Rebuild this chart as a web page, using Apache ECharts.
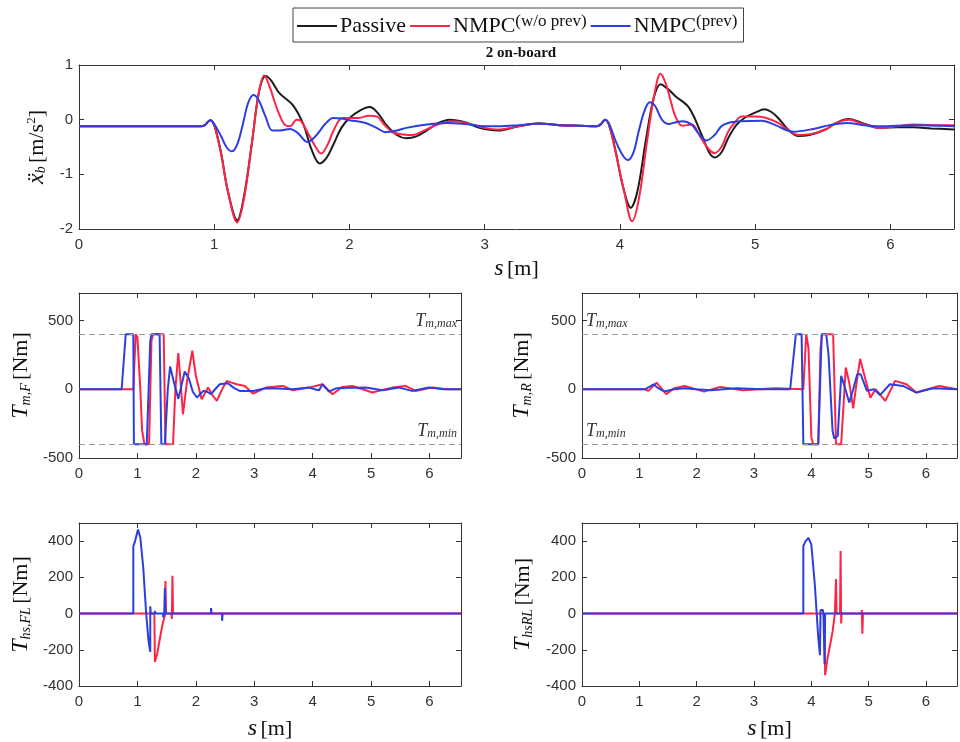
<!DOCTYPE html>
<html>
<head>
<meta charset="utf-8">
<script src="https://cdn.jsdelivr.net/npm/echarts@6/dist/echarts.min.js"></script>
<style>html,body{margin:0;padding:0;background:#fff;}#c{width:960px;height:742px;}</style>
</head>
<body>
<div id="c"></div>
<script>
// ---------- data ----------
const seriesNames = ['Passive', 'NMPC(w/o prev)', 'NMPC(prev)'];
const xTickLabels = [0, 1, 2, 3, 4, 5, 6];

// body acceleration [s, value]
const accPassive = [[0,-0.12],[0.9,-0.12],[0.93,-0.1],[0.97,-0.01],[1.0,-0.1],[1.05,-0.6],[1.1,-1.3],[1.17,-1.84],[1.22,-1.4],[1.28,-0.4],[1.33,0.5],[1.38,0.8],[1.42,0.72],[1.48,0.49],[1.58,0.27],[1.66,-0.09],[1.72,-0.55],[1.78,-0.8],[1.83,-0.7],[1.88,-0.46],[1.94,-0.15],[2.0,0.03],[2.08,0.17],[2.15,0.23],[2.21,0.12],[2.27,-0.09],[2.35,-0.28],[2.42,-0.34],[2.5,-0.3],[2.57,-0.2],[2.65,-0.07],[2.74,0.0],[2.86,-0.05],[2.96,-0.15],[3.1,-0.2],[3.25,-0.12],[3.4,-0.07],[3.55,-0.1],[3.7,-0.11],[3.83,-0.12],[3.86,-0.08],[3.89,0.0],[3.92,-0.1],[3.97,-0.6],[4.02,-1.2],[4.08,-1.61],[4.13,-1.3],[4.19,-0.4],[4.25,0.4],[4.3,0.65],[4.36,0.55],[4.41,0.43],[4.51,0.22],[4.6,-0.25],[4.66,-0.6],[4.7,-0.69],[4.75,-0.6],[4.8,-0.34],[4.86,-0.1],[4.92,0.03],[5.0,0.13],[5.07,0.19],[5.12,0.14],[5.17,0.03],[5.25,-0.2],[5.32,-0.3],[5.4,-0.28],[5.52,-0.18],[5.6,-0.06],[5.69,0.01],[5.78,-0.05],[5.92,-0.15],[6.05,-0.14],[6.17,-0.14],[6.3,-0.16],[6.47,-0.18]];
const accNoPrev = [[0,-0.12],[0.9,-0.12],[0.93,-0.1],[0.97,-0.01],[1.0,-0.1],[1.05,-0.62],[1.1,-1.3],[1.17,-1.88],[1.22,-1.45],[1.28,-0.4],[1.33,0.5],[1.37,0.81],[1.41,0.6],[1.45,0.3],[1.48,0.1],[1.52,-0.09],[1.56,-0.12],[1.61,0.0],[1.64,-0.02],[1.7,-0.28],[1.75,-0.5],[1.79,-0.62],[1.84,-0.45],[1.88,-0.21],[1.95,0.03],[2.07,0.03],[2.14,0.07],[2.2,0.06],[2.26,-0.1],[2.32,-0.23],[2.4,-0.27],[2.47,-0.28],[2.55,-0.2],[2.62,-0.12],[2.7,-0.05],[2.77,-0.03],[2.91,-0.09],[3.0,-0.15],[3.1,-0.18],[3.25,-0.12],[3.4,-0.07],[3.55,-0.1],[3.7,-0.11],[3.83,-0.12],[3.86,-0.08],[3.89,0.0],[3.92,-0.1],[3.97,-0.62],[4.03,-1.3],[4.09,-1.86],[4.14,-1.45],[4.2,-0.4],[4.25,0.4],[4.3,0.84],[4.34,0.65],[4.38,0.3],[4.41,0.06],[4.46,-0.11],[4.53,-0.09],[4.6,-0.34],[4.66,-0.55],[4.7,-0.61],[4.75,-0.5],[4.8,-0.22],[4.85,-0.05],[4.9,0.06],[5.0,0.06],[5.07,0.04],[5.17,-0.06],[5.25,-0.2],[5.32,-0.28],[5.42,-0.26],[5.52,-0.18],[5.6,-0.06],[5.69,0.0],[5.8,-0.08],[5.92,-0.15],[6.05,-0.12],[6.17,-0.09],[6.3,-0.1],[6.47,-0.1]];
const accPrev = [[0,-0.12],[0.9,-0.12],[0.93,-0.1],[0.97,-0.01],[1.0,-0.08],[1.05,-0.3],[1.09,-0.5],[1.13,-0.58],[1.17,-0.45],[1.21,-0.1],[1.25,0.3],[1.29,0.45],[1.33,0.35],[1.38,0.05],[1.43,-0.2],[1.48,-0.2],[1.56,-0.17],[1.62,-0.25],[1.69,-0.41],[1.75,-0.3],[1.82,-0.08],[1.88,0.03],[1.94,0.02],[2.0,-0.01],[2.12,-0.06],[2.2,-0.15],[2.27,-0.23],[2.35,-0.2],[2.42,-0.15],[2.57,-0.09],[2.72,-0.06],[2.85,-0.08],[3.0,-0.12],[3.1,-0.12],[3.25,-0.1],[3.4,-0.07],[3.55,-0.1],[3.7,-0.11],[3.83,-0.12],[3.86,-0.08],[3.89,0.0],[3.92,-0.08],[3.97,-0.4],[4.02,-0.65],[4.06,-0.74],[4.1,-0.6],[4.14,-0.2],[4.18,0.15],[4.22,0.32],[4.26,0.25],[4.31,0.0],[4.36,-0.08],[4.41,-0.05],[4.46,-0.03],[4.53,-0.09],[4.58,-0.25],[4.64,-0.38],[4.7,-0.28],[4.75,-0.12],[4.8,-0.06],[4.9,-0.03],[5.05,-0.02],[5.15,-0.1],[5.28,-0.22],[5.43,-0.17],[5.55,-0.1],[5.68,-0.06],[5.8,-0.1],[5.92,-0.12],[6.17,-0.1],[6.47,-0.12]];

// front motor torque
const tmfNoPrev = [[0,0],[0.93,0],[0.97,400],[1.0,380],[1.05,0],[1.08,-300],[1.12,-400],[1.2,-400],[1.24,350],[1.27,400],[1.45,400],[1.48,-400],[1.61,-400],[1.65,0],[1.7,263],[1.74,50],[1.78,-182],[1.85,60],[1.94,280],[2.0,100],[2.1,-73],[2.21,12],[2.28,-40],[2.36,-85],[2.45,0],[2.53,61],[2.6,50],[2.7,36],[2.84,24],[2.98,-32],[3.2,12],[3.49,24],[3.66,-7],[3.94,12],[4.17,36],[4.34,-36],[4.51,17],[4.68,24],[4.91,-7],[5.02,-24],[5.36,12],[5.59,24],[5.76,-12],[6.05,12],[6.3,0],[6.54,0]];
const tmfPrev = [[0,0],[0.73,0],[0.8,400],[0.93,400],[0.94,-400],[1.16,-400],[1.22,350],[1.24,400],[1.38,400],[1.41,-400],[1.47,-400],[1.52,0],[1.56,165],[1.62,60],[1.7,-70],[1.75,20],[1.81,129],[1.88,80],[1.95,-20],[2.02,-60],[2.13,-12],[2.2,-20],[2.26,-36],[2.33,0],[2.41,36],[2.55,44],[2.65,10],[2.75,-12],[2.98,-12],[3.2,7],[3.4,5],[3.66,0],[3.94,12],[4.05,-2],[4.11,-7],[4.17,36],[4.22,10],[4.28,-17],[4.4,7],[4.6,10],[4.91,12],[5.2,-7],[5.48,12],[5.7,-12],[5.99,12],[6.25,0],[6.54,0]];

// rear motor torque
const tmrNoPrev = [[0,0],[1.1,0],[1.16,-12],[1.3,48],[1.47,-36],[1.6,5],[1.79,24],[2.13,-17],[2.41,17],[2.81,-7],[3.38,7],[3.86,0],[3.91,400],[3.95,300],[4.0,-350],[4.03,-400],[4.12,-400],[4.16,300],[4.19,400],[4.38,400],[4.43,-400],[4.52,-400],[4.6,158],[4.66,50],[4.73,-139],[4.79,50],[4.85,221],[4.95,60],[5.03,-61],[5.12,0],[5.29,-85],[5.46,61],[5.66,36],[5.83,-24],[6.23,24],[6.54,0]];
const tmrPrev = [[0,0],[1.1,0],[1.25,36],[1.32,10],[1.44,-17],[1.6,0],[1.79,7],[2.0,0],[2.24,-7],[2.7,7],[3.16,0],[3.63,0],[3.73,400],[3.83,400],[3.86,-400],[4.12,-400],[4.18,400],[4.26,400],[4.3,250],[4.37,-304],[4.4,-358],[4.46,-340],[4.52,97],[4.58,20],[4.66,-97],[4.73,0],[4.8,109],[4.86,109],[4.97,-12],[5.09,0],[5.2,-41],[5.37,36],[5.6,24],[5.83,-24],[6.12,7],[6.54,0]];

// front-left hard-stop torque
const thsflNoPrev = [[0,0],[1.29,0],[1.3,-267],[1.34,-220],[1.38,-146],[1.43,-60],[1.47,-10],[1.48,180],[1.49,0],[1.58,0],[1.59,-30],[1.6,208],[1.61,0],[6.54,0]];
const thsflPrev = [[0,0],[0.93,0],[0.93,370],[0.96,400],[1.01,464],[1.05,420],[1.1,254],[1.15,0],[1.19,-150],[1.22,-212],[1.22,40],[1.23,0],[1.3,0],[1.3,15],[1.31,0],[1.44,0],[1.44,-20],[1.46,0],[1.47,141],[1.48,0],[2.26,0],[2.26,30],[2.27,0],[2.45,0],[2.45,-40],[2.46,0],[4.4,0],[4.4,8],[4.41,0],[6.54,0]];

// rear-left hard-stop torque
const thsrlNoPrev = [[0,0],[4.23,0],[4.24,-340],[4.28,-250],[4.32,-185],[4.37,-100],[4.41,0],[4.43,190],[4.44,0],[4.5,0],[4.51,345],[4.52,-55],[4.53,0],[4.88,0],[4.88,20],[4.89,-111],[4.9,0],[6.54,0]];
const thsrlPrev = [[0,0],[3.86,0],[3.86,373],[3.9,400],[3.95,418],[4.0,380],[4.06,162],[4.12,-130],[4.15,-230],[4.16,20],[4.2,20],[4.21,0],[4.23,0],[4.23,-280],[4.24,0],[6.54,0]];

const torqueLimits = [400, -400];

// ---------- styling ----------
const C_BLACK = '#1c1c1c', C_RED = '#ff2445', C_BLUE = '#2b3fe0';
const AX = '#333';
const SERIF = '"Liberation Serif", "DejaVu Serif", serif';
const SANS = '"Liberation Sans", Arial, sans-serif';

const nameRich = {
  it: {fontFamily: SERIF, fontStyle: 'italic', fontSize: 24, color: '#111'},
  sub: {fontFamily: SERIF, fontStyle: 'italic', fontSize: 14, color: '#111', verticalAlign: 'bottom', lineHeight: 14},
  n: {fontFamily: SERIF, fontSize: 22, color: '#111'},
  sup: {fontFamily: SERIF, fontSize: 13, color: '#111', verticalAlign: 'top', lineHeight: 13}
};

const grids = [
  {left: 79, top: 65, width: 875, height: 164},
  {left: 79, top: 293, width: 382, height: 165},
  {left: 582, top: 293, width: 382, height: 165},
  {left: 79, top: 523, width: 382, height: 163},
  {left: 582, top: 523, width: 382, height: 163}
];
const xMax = [6.47, 6.54, 6.54, 6.54, 6.54];
const yRange = [[-2, 1, 1], [-500, 700, 500], [-500, 700, 500], [-400, 500, 200], [-400, 500, 200]];
const yNames = [
  '{it|ẍ}{sub|b} {n|[m/s}{sup|2}{n|]}',
  '{it|T}{sub|m,F} {n|[Nm]}',
  '{it|T}{sub|m,R} {n|[Nm]}',
  '{it|T}{sub|hs,FL} {n|[Nm]}',
  '{it|T}{sub|hsRL} {n|[Nm]}'
];
const yNameGap = [24, 46, 48, 46, 47];
const xNameShown = [true, false, false, true, true];
const xNameGap = [28, 0, 0, 31, 31];

const xAxes = [], yAxes = [];
grids.forEach((g, i) => {
  const line = {show: true, onZero: false, lineStyle: {color: AX, width: 1}};
  const tick = {show: true, inside: true, length: 5, lineStyle: {color: AX}};
  xAxes.push({
    type: 'value', gridIndex: i, min: 0, max: xMax[i], interval: 1,
    axisLine: line, axisTick: tick, splitLine: {show: false},
    axisLabel: {color: '#333', fontFamily: SANS, fontSize: 15, margin: 8,
      formatter: v => (xTickLabels.indexOf(v) >= 0 ? String(v) : '')},
    name: xNameShown[i] ? '{it|s} {n|[m]}' : '', nameLocation: 'middle', nameGap: xNameGap[i],
    nameTextStyle: {rich: nameRich}
  });
  xAxes.push({
    type: 'value', gridIndex: i, min: 0, max: xMax[i], interval: 1, position: 'top',
    axisLine: line, axisTick: tick, axisLabel: {show: false}, splitLine: {show: false}
  });
  yAxes.push({
    type: 'value', gridIndex: i, min: yRange[i][0], max: yRange[i][1], interval: yRange[i][2],
    axisLine: line, axisTick: tick, splitLine: {show: false},
    axisLabel: {color: '#333', fontFamily: SANS, fontSize: 15, margin: 6, showMaxLabel: i === 0},
    name: yNames[i], nameLocation: 'middle', nameGap: yNameGap[i], nameRotate: 90,
    nameTextStyle: {rich: nameRich}
  });
  yAxes.push({
    type: 'value', gridIndex: i, min: yRange[i][0], max: yRange[i][1], interval: yRange[i][2], position: 'right',
    axisLine: line, axisTick: tick, axisLabel: {show: false}, splitLine: {show: false}
  });
});

function lineSeries(name, color, data, gi, smooth) {
  return {
    type: 'line', name: name, data: data, xAxisIndex: 2 * gi, yAxisIndex: 2 * gi,
    showSymbol: false, symbol: 'none', smooth: smooth, animation: false, sampling: null,
    lineStyle: {color: color, width: 2}, itemStyle: {color: color}, z: 3
  };
}
function limitLines(atEnd) {
  const labRich = {
    it: {fontFamily: SERIF, fontStyle: 'italic', fontSize: 18, color: '#333'},
    sub: {fontFamily: SERIF, fontStyle: 'italic', fontSize: 12, color: '#333', verticalAlign: 'bottom', lineHeight: 12}
  };
  return {
    silent: true, symbol: ['none', 'none'], animation: false,
    lineStyle: {color: '#9a9a9a', type: [6, 4], width: 1},
    data: [
      {yAxis: torqueLimits[0], label: {formatter: '{it|T}{sub|m,max}'}},
      {yAxis: torqueLimits[1], label: {formatter: '{it|T}{sub|m,min}'}}
    ],
    label: {show: true, position: atEnd ? 'insideEndTop' : 'insideStartTop', distance: [4, 4], rich: labRich}
  };
}

const series = [
  lineSeries(seriesNames[0], C_BLACK, accPassive, 0, 0.35),
  lineSeries(seriesNames[1], C_RED, accNoPrev, 0, 0.35),
  lineSeries(seriesNames[2], C_BLUE, accPrev, 0, 0.35),
  Object.assign(lineSeries(seriesNames[1], C_RED, tmfNoPrev, 1, false), {markLine: limitLines(true)}),
  lineSeries(seriesNames[2], C_BLUE, tmfPrev, 1, false),
  Object.assign(lineSeries(seriesNames[1], C_RED, tmrNoPrev, 2, false), {markLine: limitLines(false)}),
  lineSeries(seriesNames[2], C_BLUE, tmrPrev, 2, false),
  lineSeries(seriesNames[1], C_RED, thsflNoPrev, 3, false),
  lineSeries(seriesNames[2], C_BLUE, thsflPrev, 3, false),
  lineSeries(seriesNames[1], C_RED, thsrlNoPrev, 4, false),
  lineSeries(seriesNames[2], C_BLUE, thsrlPrev, 4, false)
];

const chart = echarts.init(document.getElementById('c'), null, {renderer: 'canvas'});
chart.setOption({
  backgroundColor: '#fff',
  animation: false,
  grid: grids.map(g => Object.assign({show: false, containLabel: false}, g)),
  xAxis: xAxes,
  yAxis: yAxes,
  legend: {
    data: seriesNames, left: 293, top: 8, orient: 'horizontal',
    padding: [5, 6, 5, 4], itemGap: 4, itemWidth: 40, itemHeight: 14,
    borderColor: '#444', borderWidth: 1, backgroundColor: '#fff',
    icon: 'path://M0,0 L40,0 L40,2 L0,2 Z',
    formatter: function (n) {
      if (n === 'Passive') return '{n|Passive}';
      if (n === 'NMPC(w/o prev)') return '{n|NMPC}{sup|(w/o prev)}';
      return '{n|NMPC}{sup|(prev)}';
    },
    textStyle: {
      padding: [0, 0, 0, -2],
      rich: {
        n: {fontFamily: SERIF, fontSize: 22, color: '#111', lineHeight: 26},
        sup: {fontFamily: SERIF, fontSize: 17, color: '#111', verticalAlign: 'top', lineHeight: 16}
      }
    }
  },
  graphic: [{
    type: 'text', x: 521, y: 46,
    style: {text: '2 on-board', font: 'bold 15px "Liberation Serif"', textAlign: 'center', fill: '#111'}
  }],
  series: series
});
</script>
</body>
</html>
